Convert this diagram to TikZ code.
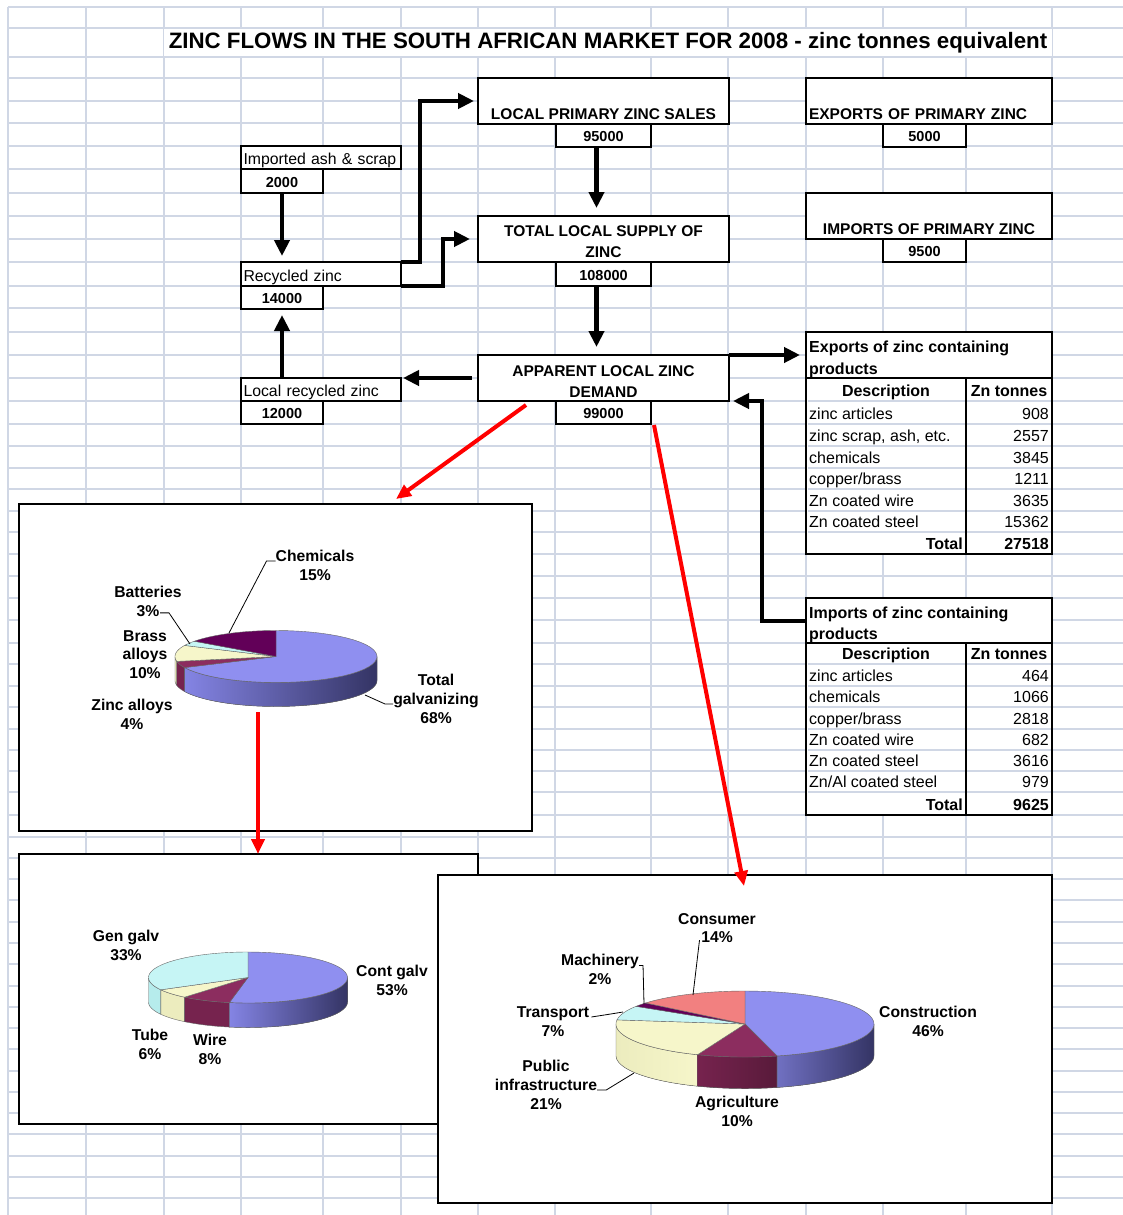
\documentclass[tikz,border=0pt]{standalone}
\usepackage{fontspec}
\setmainfont{Liberation Sans}
\usetikzlibrary{arrows.meta}

\definecolor{gridcol}{RGB}{208,215,229}
\definecolor{galvblue}{RGB}{143,143,240}
\definecolor{galvside}{RGB}{132,132,228}
\definecolor{galvdark}{RGB}{52,52,100}
\definecolor{maroon}{RGB}{140,45,95}
\definecolor{maroonside}{RGB}{118,35,78}
\definecolor{cream}{RGB}{246,246,202}
\definecolor{creamside}{RGB}{236,236,190}
\definecolor{paleaqua}{RGB}{198,245,245}
\definecolor{paleaquaside}{RGB}{182,236,236}
\definecolor{plum}{RGB}{98,0,88}
\definecolor{salmon}{RGB}{242,128,128}

% pie pieces, centre and radii taken from \pieX \pieY \pieRx \pieRy \pieH
\newcommand{\pietop}[3]{\filldraw[fill=#3,draw=black!60,line width=0.4pt] (\pieX,\pieY) -- plot[domain=#1:#2,samples=40] ({\pieX+\pieRx*cos(\x)},{\pieY-\pieRy*sin(\x)}) -- cycle;}
\newcommand{\pieside}[3]{\filldraw[#3,draw=black!60,line width=0.4pt] plot[domain=#1:#2,samples=40] ({\pieX+\pieRx*cos(\x)},{\pieY-\pieRy*sin(\x)}) -- plot[domain=#2:#1,samples=40] ({\pieX+\pieRx*cos(\x)},{\pieY+\pieH-\pieRy*sin(\x)}) -- cycle;}

\begin{document}
\begin{tikzpicture}[x=1pt,y=-1pt,line join=miter,
  box/.style={draw,line width=2.6pt,fill=white,inner sep=0pt,outer sep=0pt,anchor=north west},
  chart/.style={draw,line width=2pt,fill=white,inner sep=0pt,outer sep=0pt,anchor=north west},
  capsfont/.style={font=\bfseries\fontsize{15.5}{21}\selectfont},
  valfont/.style={font=\bfseries\fontsize{14.5}{17}\selectfont,text height=14pt,text depth=2pt},
  plainfont/.style={font=\fontsize{15.8}{19}\selectfont,text height=17pt,text depth=3pt,text width=155pt,align=left},
  headfont/.style={font=\bfseries\fontsize{16}{21.5}\selectfont,inner sep=0pt},
  cell/.style={font=\fontsize{16}{19}\selectfont,inner sep=0pt},
  pielabel/.style={font=\bfseries\fontsize{15.7}{18.8}\selectfont,align=center,inner sep=0pt},
  flow/.style={line width=4.5pt,-{Triangle[length=16pt,width=15pt]}},
  redflow/.style={red,line width=4pt,-{Triangle[length=15pt,width=13pt]}},
  leader/.style={line width=0.8pt}]
\useasboundingbox (0,0) rectangle (1123,1215);
\fill[white] (0,0) rectangle (1123,1215);
% spreadsheet grid
\foreach \gx in {8,86,164,241,323,401,478,555,651,728,806,883,966,1052}
  \draw[gridcol,line width=1.5pt] (\gx,7) -- (\gx,1215);
\foreach \gy in {7,28,57,78,101,123,146,169,193,216,239,262,286,308,332,355,378,401,424,446,468,489,511,532,554,576,598,620,643,664,686,707,729,750,771,792,815,837,858,879,900,922,943,964,986,1007,1028,1049,1071,1092,1113,1134,1156,1177,1198}
  \draw[gridcol,line width=1.5pt] (8,\gy) -- (1123,\gy);

\node[fill=white,inner sep=0pt,minimum width=888pt,minimum height=27pt,font=\bfseries\fontsize{22.3}{26}\selectfont] (title) at (608,42.5) {ZINC FLOWS IN THE SOUTH AFRICAN MARKET FOR 2008 - zinc tonnes equivalent};

% flow boxes
\node[box,minimum width=160pt,minimum height=23pt,plainfont] (ashbox) at (241,146) {Imported ash \& scrap};
\node[box,minimum width=82pt,minimum height=24pt,valfont] (ashval) at (241,169) {2000};
\node[box,minimum width=160pt,minimum height=24pt,plainfont] (recbox) at (241,262) {Recycled zinc};
\node[box,minimum width=82pt,minimum height=23pt,valfont] (recval) at (241,286) {14000};
\node[box,minimum width=160pt,minimum height=23pt,plainfont] (localbox) at (241,378) {Local recycled zinc};
\node[box,minimum width=82pt,minimum height=23pt,valfont] (localval) at (241,401) {12000};

\node[box,minimum width=251pt,minimum height=46pt,capsfont,text height=41pt,text depth=4pt] (salesbox) at (478,78) {LOCAL PRIMARY ZINC SALES};
\node[box,minimum width=95pt,minimum height=23pt,valfont] (salesval) at (556,124) {95000};
\node[box,minimum width=251pt,minimum height=46pt,capsfont,align=center] (supplybox) at (478,216) {\rule{0pt}{17pt}TOTAL LOCAL SUPPLY OF\\ZINC};
\node[box,minimum width=95pt,minimum height=24pt,valfont] (supplyval) at (556,262) {108000};
\node[box,minimum width=251pt,minimum height=46pt,capsfont,align=center] (demandbox) at (478,355) {\rule{0pt}{17pt}APPARENT LOCAL ZINC\\DEMAND};
\node[box,minimum width=95pt,minimum height=23pt,valfont] (demandval) at (556,401) {99000};

\node[box,minimum width=246pt,minimum height=46pt,capsfont,text width=240pt,align=left,text height=41pt,text depth=4pt] (expbox) at (806,78) {EXPORTS OF PRIMARY ZINC};
\node[box,minimum width=83pt,minimum height=23pt,valfont] (expval) at (883,124) {5000};
\node[box,minimum width=246pt,minimum height=46pt,capsfont,text height=41pt,text depth=4pt] (impbox) at (806,193) {IMPORTS OF PRIMARY ZINC};
\node[box,minimum width=83pt,minimum height=23pt,valfont] (impval) at (883,239) {9500};

% exports table
\node[box,minimum width=246pt,minimum height=222pt] (exptab) at (806,332) {};
\foreach \yb in {401,424,446,468,489,511,532} \draw[gridcol,line width=1.5pt] (807.5,\yb) -- (1050.5,\yb);
\draw[line width=2.6pt] (806,378) -- (1052,378);
\draw[line width=1.8pt] (966,378) -- (966,554);
\node[headfont,anchor=west,align=left] (exphead) at (809,359.5) {Exports of zinc containing\\products};
\node[headfont,anchor=base] (expdesc) at (886,396) {Description};
\node[headfont,anchor=base] (expton) at (1009,396) {Zn tonnes};
\foreach \d/\v/\yb [count=\i] in {zinc articles/908/424,{zinc scrap, ash, etc.}/2557/446,chemicals/3845/468,{copper/brass}/1211/489,Zn coated wire/3635/511,Zn coated steel/15362/532}{
  \node[cell,anchor=base west] (expd\i) at (809,\yb-5) {\d};
  \node[cell,anchor=base east] (expv\i) at (1049,\yb-5) {\v};}
\node[headfont,anchor=base east] (exptot) at (963,549) {Total};
\node[headfont,anchor=base east] (exptotv) at (1049,549) {27518};

% imports table
\node[box,minimum width=246pt,minimum height=217pt] (imptab) at (806,598) {};
\foreach \yb in {664,686,707,729,750,771,792} \draw[gridcol,line width=1.5pt] (807.5,\yb) -- (1050.5,\yb);
\draw[line width=2.6pt] (806,643) -- (1052,643);
\draw[line width=1.8pt] (966,643) -- (966,815);
\node[headfont,anchor=west,align=left] (imphead) at (809,625) {Imports of zinc containing\\products};
\node[headfont,anchor=base] (impdesc) at (886,659) {Description};
\node[headfont,anchor=base] (impton) at (1009,659) {Zn tonnes};
\foreach \d/\v/\yb [count=\i] in {zinc articles/464/686,chemicals/1066/707,{copper/brass}/2818/729,Zn coated wire/682/750,Zn coated steel/3616/771,{Zn/Al coated steel}/979/792}{
  \node[cell,anchor=base west] (impd\i) at (809,\yb-5) {\d};
  \node[cell,anchor=base east] (impv\i) at (1049,\yb-5) {\v};}
\node[headfont,anchor=base east] (imptot) at (963,810) {Total};
\node[headfont,anchor=base east] (imptotv) at (1049,810) {9625};

% flows
\draw[flow,shorten >=6pt] (ashval.south) -- (ashval.south |- recbox.north);
\draw[flow,shorten >=6pt] (localval.north |- localbox.north) -- (recval.south);
\draw[flow] (recbox.north east) -- ++(19,0) |- ([xshift=-4pt]salesbox.west);
\draw[flow] (recbox.south east) -- ++(42,0) |- ([xshift=-8pt]supplybox.west);
\draw[flow,shorten >=8pt] ([xshift=-7pt]salesval.south) -- ([xshift=-7pt]salesval.south |- supplybox.north);
\draw[flow,shorten >=8pt] ([xshift=-7pt]supplyval.south) -- ([xshift=-7pt]supplyval.south |- demandbox.north);
\draw[flow,shorten <=6pt,shorten >=2pt] (demandbox.west) -- (demandbox.west -| localbox.east);
\draw[flow,shorten >=6pt] (demandbox.north east) -- (demandbox.north east -| exptab.west);
\draw[flow,shorten >=4pt] ([yshift=-23pt]imptab.north west) -| ([xshift=33pt]demandbox.south east) -- (demandbox.south east);

% charts
\node[chart,minimum width=513pt,minimum height=327pt] (chartA) at (19,504) {};
\node[chart,minimum width=459pt,minimum height=270pt] (chartB) at (19,854) {};
\node[chart,minimum width=614pt,minimum height=328pt] (chartC) at (438,875) {};

% end uses
\def\pieX{276}\def\pieY{656.5}\def\pieRx{101}\def\pieRy{26}\def\pieH{24}
\pieside{-180}{-169.2}{fill=creamside}
\pieside{-169.2}{-154.8}{fill=maroonside}
\pieside{-154.8}{0}{left color=galvside,middle color=galvside!75!galvdark,right color=galvdark}
\foreach \a/\b/\c in {-154.8/90/galvblue,-169.2/-154.8/maroon,-205.2/-169.2/cream,-216/-205.2/paleaqua,-270/-216/plum}
  \pietop{\a}{\b}{\c};
\node[pielabel] (chem) at (315,565.5) {Chemicals\\15\%};
\node[pielabel] (batt) at (148,601.5) {Batteries\\3\%};
\node[pielabel] (brass) at (145,654.5) {Brass\\alloys\\10\%};
\node[pielabel] (zincal) at (132,714) {Zinc alloys\\4\%};
\node[pielabel] (galv) at (436,699) {Total\\galvanizing\\68\%};
\draw[leader] ([yshift=4.5pt]chem.west) -- ++(-9,0) -- (229,633);
\draw[leader] ([xshift=12pt,yshift=4pt]batt.south) -- ++(9,0) -- (190,644);
\draw[leader] ([yshift=-5pt]galv.west) -- ++(-8,0) -- (365,695);

% galvanizing
\def\pieX{248}\def\pieY{977.5}\def\pieRx{99.5}\def\pieRy{25.5}\def\pieH{24.5}
\pieside{-180}{-151.2}{fill=paleaquaside}
\pieside{-151.2}{-129.6}{fill=creamside}
\pieside{-129.6}{-100.8}{fill=maroonside}
\pieside{-100.8}{0}{left color=galvside,middle color=galvside!75!galvdark,right color=galvdark}
\foreach \a/\b/\c in {-100.8/90/galvblue,-129.6/-100.8/maroon,-151.2/-129.6/cream,-270/-151.2/paleaqua}
  \pietop{\a}{\b}{\c};
\node[pielabel] (gen) at (126,945) {Gen galv\\33\%};
\node[pielabel] (cont) at (392,980.5) {Cont galv\\53\%};
\node[pielabel] (tube) at (150,1044.5) {Tube\\6\%};
\node[pielabel] (wire) at (210,1049) {Wire\\8\%};

% markets
\def\pieX{745}\def\pieY{1024}\def\pieRx{129}\def\pieRy{33}\def\pieH{31.5}
\pieside{-180}{-111.6}{left color=creamside,right color=cream}
\pieside{-111.6}{-75.6}{left color=maroonside,right color=maroonside!75!black}
\pieside{-75.6}{0}{left color=galvside!85!black,middle color=galvside!60!galvdark,right color=galvdark}
\foreach \a/\b/\c in {-75.6/90/galvblue,-111.6/-75.6/maroon,-187.2/-111.6/cream,-212.4/-187.2/paleaqua,-219.6/-212.4/plum,-270/-219.6/salmon}
  \pietop{\a}{\b}{\c};
\node[pielabel] (consumer) at (717,928) {Consumer\\14\%};
\node[pielabel] (machinery) at (600,969.5) {Machinery\\2\%};
\node[pielabel] (transport) at (553,1021.5) {Transport\\7\%};
\node[pielabel] (public) at (546,1085) {Public\\infrastructure\\21\%};
\node[pielabel] (agri) at (737,1111.5) {Agriculture\\10\%};
\node[pielabel] (constr) at (928,1021.5) {Construction\\46\%};
\draw[leader] ([xshift=-17.5pt,yshift=3pt]consumer.south) -- (693,995);
\draw[leader] ([yshift=4pt]machinery.east) -- ++(4,0) -- (644,1004);
\draw[leader] ([xshift=2pt,yshift=4.5pt]transport.east) -- ++(13,-2) -- (623,1012);
\draw[leader] ([yshift=-5pt]public.east) -- ++(9,0) -- (634,1073);

% red links
\draw[redflow] ([xshift=48pt,yshift=-4pt]demandbox.south west) -- ([xshift=377pt,yshift=5pt]chartA.north west);
\draw[redflow] ([xshift=3pt,yshift=-1pt]demandval.south east) -- ([xshift=306pt,yshift=-11pt]chartC.north west);
\draw[redflow] ([xshift=239pt,yshift=-208pt]chartA.north west) -- ([xshift=239pt]chartB.north west);
\end{tikzpicture}
\end{document}
